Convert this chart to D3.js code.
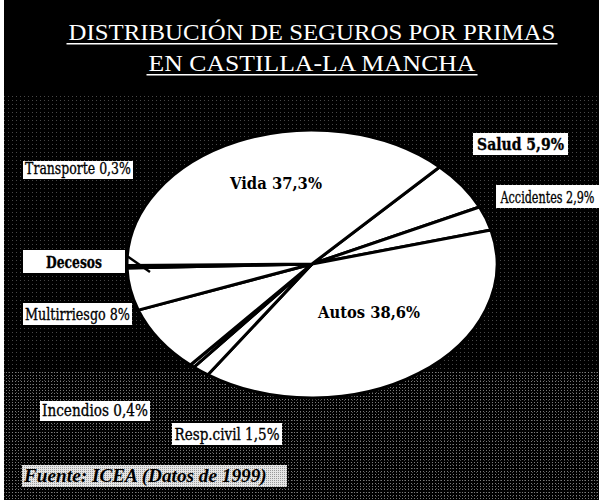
<!DOCTYPE html>
<html>
<head>
<meta charset="utf-8">
<script src="https://cdn.jsdelivr.net/npm/d3@7/dist/d3.min.js"></script>
<style>
  html, body { margin: 0; padding: 0; background: #000; }
  svg { display: block; }
</style>
</head>
<body>
<div id="chart"></div>
<script>
// Datos del gráfico (orden horario desde el borde Vida/Salud)
const categories = ['Salud', 'Accidentes', 'Autos', 'Resp.civil', 'Incendios', 'Multirriesgo', 'Decesos', 'Transporte', 'Vida'];
const shares = [5.9, 2.9, 38.6, 1.5, 0.4, 8, 5.1, 0.3, 37.3];
const labelTexts = ['Salud 5,9%', 'Accidentes 2,9%', 'Autos 38,6%', 'Resp.civil 1,5%', 'Incendios 0,4%', 'Multirriesgo 8%', 'Decesos', 'Transporte 0,3%', 'Vida 37,3%'];
const titleLines = ['DISTRIBUCIÓN DE SEGUROS POR PRIMAS', 'EN CASTILLA-LA MANCHA'];
const sourceNote = 'Fuente: ICEA (Datos de 1999)';

// Layout
const width = 599, height = 500;
const cx = 312, cy = 264, rx = 185, ry = 134;
const startDeg = 43.6;
const titleFont = '"Palatino Linotype", "Book Antiqua", "Liberation Serif", serif';
const labelFont = '"DejaVu Serif", serif';

// cajas de etiquetas: [x, y, w, h, ancho del texto]
const boxes = {
  'Salud': [473, 133, 95, 22, 87],
  'Accidentes': [496, 185, 103, 23, 94],
  'Transporte': [23, 161, 110, 18, 106],
  'Decesos': [23, 250, 102, 23, 56],
  'Multirriesgo': [23, 303, 109, 22, 105],
  'Incendios': [40, 401, 110, 20, 106],
  'Resp.civil': [172, 423, 110, 22, 105]
};
// etiquetas dentro de la tarta: [x centro, baseline, ancho]
const inner = {
  'Vida': [276, 189, 92],
  'Autos': [369, 318, 102]
};

const svg = d3.select('#chart').append('svg')
  .attr('width', width)
  .attr('height', height);

// escala horizontalmente un texto (anclado en el centro) hasta el ancho pedido
function fitText(g, x, y, target, anchor) {
  const t = g.select('text');
  const w = t.node().getComputedTextLength();
  const s = target / w;
  g.attr('transform', `translate(${x},${y}) scale(${s},1)`);
  t.attr('text-anchor', anchor || 'middle');
}

// patrones de trama (imitan el escaneado)
const defs = svg.append('defs');
const sparse = defs.append('pattern')
  .attr('id', 'sparse').attr('width', 4).attr('height', 4)
  .attr('patternUnits', 'userSpaceOnUse');
sparse.append('rect').attr('width', 1).attr('height', 1).attr('fill', '#5a5a5a');
const dense = defs.append('pattern')
  .attr('id', 'dense').attr('width', 3).attr('height', 3)
  .attr('patternUnits', 'userSpaceOnUse');
dense.append('rect').attr('width', 1).attr('height', 1).attr('fill', '#888');
const light = defs.append('pattern')
  .attr('id', 'light').attr('width', 2).attr('height', 2)
  .attr('patternUnits', 'userSpaceOnUse');
light.append('rect').attr('width', 2).attr('height', 2).attr('fill', '#e6e6e6');
light.append('rect').attr('width', 1).attr('height', 1).attr('fill', '#9a9a9a');

// fondo
svg.append('rect').attr('width', width).attr('height', height).attr('fill', '#000');
svg.append('rect').attr('x', 0).attr('y', 95).attr('width', width).attr('height', 405)
  .attr('fill', 'url(#sparse)').attr('opacity', 0.8);
svg.append('rect').attr('x', 0).attr('y', 370).attr('width', width).attr('height', 130)
  .attr('fill', 'url(#dense)').attr('opacity', 0.9);
svg.append('rect').attr('x', 0).attr('y', 0).attr('width', 4).attr('height', height).attr('fill', '#fff');

// título
const title = svg.append('g').attr('fill', '#fff')
  .style('font-family', titleFont).style('font-size', '23px');
const titleY = [40, 71];
const titleW = [487, 327];
titleLines.forEach((t, i) => {
  const g = title.append('g');
  g.append('text').text(t);
  fitText(g, cx, titleY[i], titleW[i]);
  title.append('rect')
    .attr('x', cx - titleW[i] / 2 - 2).attr('y', titleY[i] + 3)
    .attr('width', titleW[i] + 4).attr('height', 1.5)
    .attr('fill', '#fff');
});

// tarta elíptica
const data = categories.map((c, i) => ({ name: c, value: shares[i], label: labelTexts[i] }));
const pie = d3.pie()
  .sort(null)
  .value(d => d.value)
  .startAngle(startDeg * Math.PI / 180)
  .endAngle(startDeg * Math.PI / 180 + 2 * Math.PI);
const arc = d3.arc().innerRadius(0).outerRadius(rx);

const pieG = svg.append('g')
  .attr('transform', `translate(${cx},${cy}) scale(1,${ry / rx})`);
pieG.selectAll('path')
  .data(pie(data))
  .join('path')
  .attr('d', arc)
  .attr('fill', '#fff')
  .attr('stroke', '#000')
  .attr('stroke-width', 3)
  .attr('stroke-linejoin', 'round')
  .attr('vector-effect', 'non-scaling-stroke');

// línea guía de Decesos
svg.append('line')
  .attr('x1', 127).attr('y1', 256).attr('x2', 150).attr('y2', 272)
  .attr('stroke', '#000').attr('stroke-width', 2.5);

// etiquetas con caja
const labels = svg.append('g').style('font-family', labelFont);
data.filter(d => boxes[d.name]).forEach(d => {
  const [x, y, w, h, tw] = boxes[d.name];
  labels.append('rect')
    .attr('x', x).attr('y', y).attr('width', w).attr('height', h)
    .attr('fill', '#fff');
  const g = labels.append('g');
  g.append('text')
    .style('font-size', '17px')
    .style('font-weight', d.name === 'Salud' || d.name === 'Decesos' ? 'bold' : 'normal')
    .attr('fill', '#000')
    .attr('stroke', '#000').attr('stroke-width', 0.35)
    .text(d.label);
  fitText(g, x + w / 2, y + h - 5, tw);
});

// etiquetas interiores
data.filter(d => inner[d.name]).forEach(d => {
  const [x, y, tw] = inner[d.name];
  const g = labels.append('g');
  g.append('text')
    .style('font-size', '16px')
    .style('font-weight', 'bold')
    .attr('fill', '#000')
    .text(d.label);
  fitText(g, x, y, tw);
});

// fuente
labels.append('rect')
  .attr('x', 22).attr('y', 465).attr('width', 265).attr('height', 22)
  .attr('fill', 'url(#light)');
const src = labels.append('g');
src.append('text')
  .style('font-family', titleFont)
  .style('font-size', '18px')
  .style('font-weight', 'bold')
  .style('font-style', 'italic')
  .attr('fill', '#000')
  .text(sourceNote);
fitText(src, 24, 482, 243, 'start');
</script>
</body>
</html>
